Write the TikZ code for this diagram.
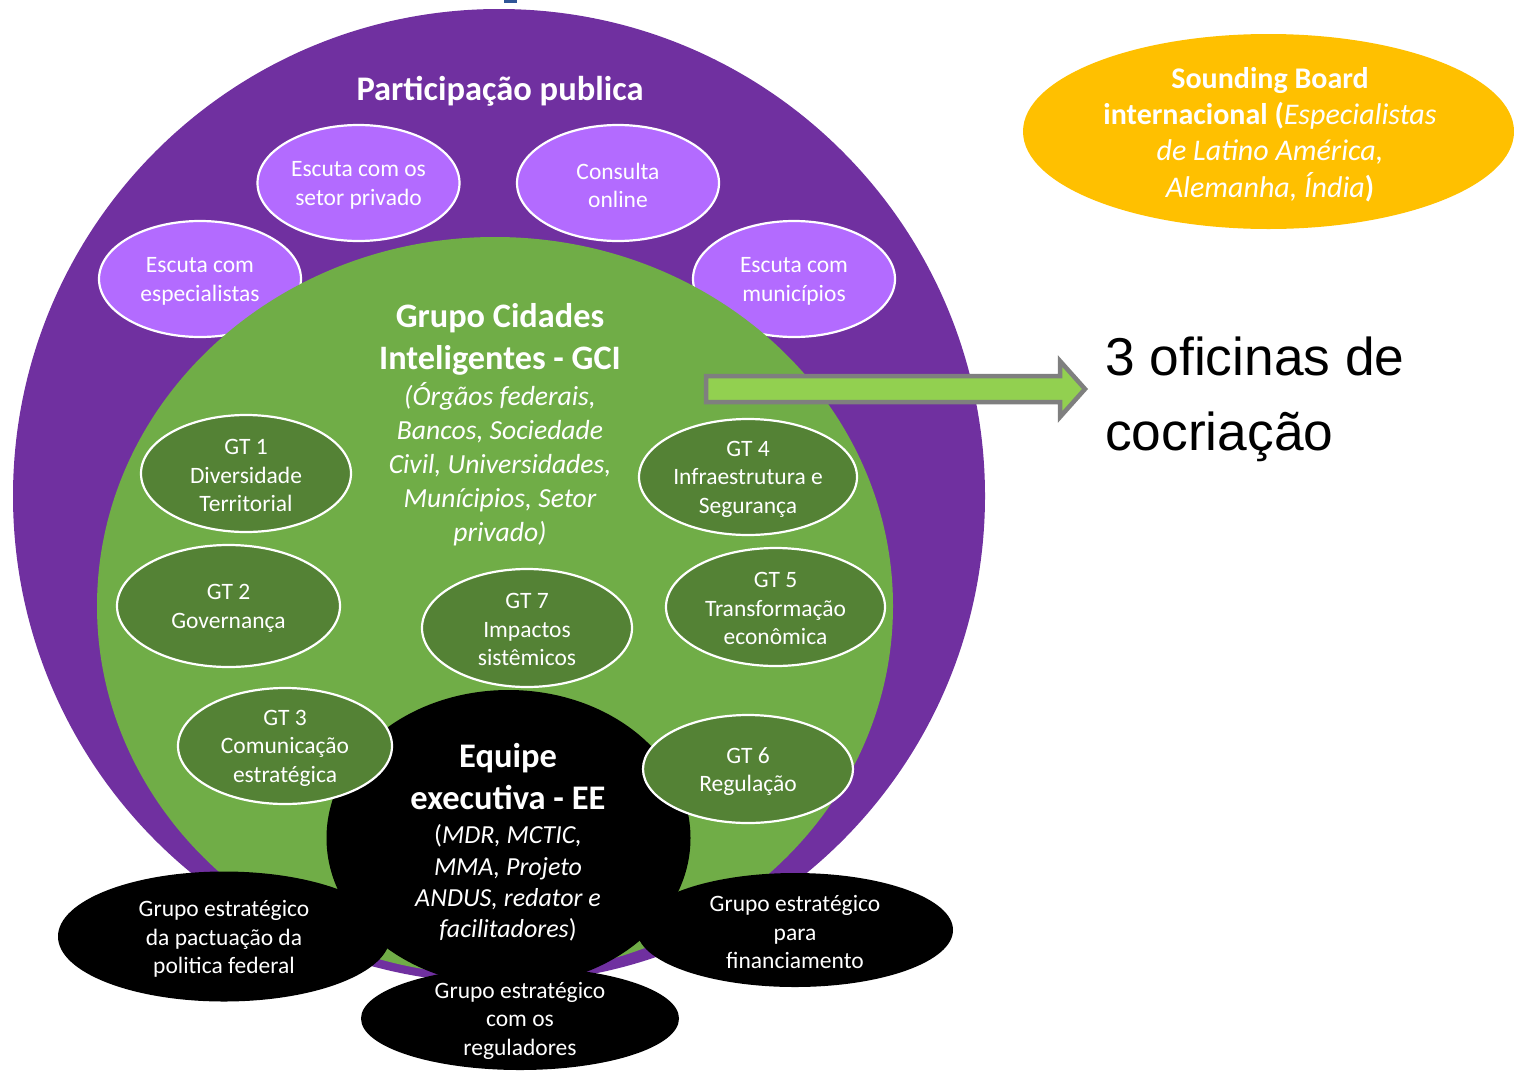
\documentclass[tikz,border=0pt]{standalone}
\usepackage{fontspec}
\setmainfont{Carlito}
\newfontfamily\arialfont{Liberation Sans}
\usetikzlibrary{shapes.geometric}
\definecolor{purp}{HTML}{7030A0}
\definecolor{lpurp}{HTML}{B36BFF}
\definecolor{grn}{HTML}{70AD47}
\definecolor{dgrn}{HTML}{548235}
\definecolor{yel}{HTML}{FFC000}
\definecolor{arrgrn}{HTML}{92D050}
\definecolor{arrgray}{HTML}{7F7F7F}
\definecolor{titleblue}{HTML}{2F5597}
\begin{document}
\begin{tikzpicture}[x=1pt,y=-1pt,
  ell/.style 2 args={ellipse, inner sep=0pt, outer sep=0pt, minimum width=#1pt, minimum height=#2pt},
  small/.style={font=\fontsize{23.5}{28.5}\selectfont, text=white, align=center, inner sep=0pt},
  lp/.style={ell={202}{116}, fill=lpurp, draw=white, line width=2.2pt},
  gt/.style={fill=dgrn, draw=white, line width=2.2pt},
  blk/.style={fill=black},
  wtxt/.style={text=white, align=center, inner sep=0pt},
]
\useasboundingbox (0,0) rectangle (1514,1071);
\fill[titleblue] (504,0) rectangle (517,3);
% big circles
\node[ell={972}{974}, fill=purp] (pp) at (499,496) {};
\node[lp] (priv) at (358.5,183) {};
\node[lp] (onl) at (618,183) {};
\node[lp] (esp) at (200,279) {};
\node[lp] (mun) at (794,279) {};
\node[ell={796}{738}, fill=grn] (gci) at (495,606) {};
\node[ell={364}{296}, fill=black] (ee) at (508.5,838) {};
% GT groups
\node[gt, ell={210}{117}] (gt1) at (246,473.5) {};
\node[gt, ell={223}{122}] (gt2) at (228.5,606) {};
\node[gt, ell={214}{116}] (gt3) at (285,746) {};
\node[gt, ell={218}{116}] (gt4) at (748,477) {};
\node[gt, ell={219}{118}] (gt5) at (775.5,607) {};
\node[gt, ell={210}{108}] (gt6) at (748,769) {};
\node[gt, ell={210}{118}] (gt7) at (527,628) {};
% strategic groups
\node[blk, ell={332}{130}] (pact) at (224,936.5) {};
\node[blk, ell={316}{114}] (fin) at (795,930) {};
\node[blk, ell={318}{103}] (reg) at (520,1018.5) {};
% small labels
\node[small] (privt) at ([yshift=-2.5pt]priv.center) {Escuta com os\\setor privado};
\node[small] (onlt) at ([yshift=-2.5pt]onl.center) {Consulta\\online};
\node[small] (espt) at ([yshift=-2.5pt]esp.center) {Escuta com\\especialistas};
\node[small] (munt) at ([yshift=-2.5pt]mun.center) {Escuta com\\municípios};
\node[small] (gt1t) at ([yshift=-2pt]gt1.center) {GT 1\\Diversidade\\Territorial};
\node[small] (gt2t) at ([yshift=-2.5pt]gt2.center) {GT 2\\Governança};
\node[small] (gt3t) at ([yshift=-2pt]gt3.center) {GT 3\\Comunicação\\estratégica};
\node[small] (gt4t) at ([yshift=-2pt]gt4.center) {GT 4\\Infraestrutura e\\Segurança};
\node[small] (gt5t) at ([yshift=-1.5pt]gt5.center) {GT 5\\Transformação\\econômica};
\node[small] (gt6t) at ([yshift=-2.5pt]gt6.center) {GT 6\\Regulação};
\node[small] (gt7t) at ([yshift=-1.5pt]gt7.center) {GT 7\\Impactos\\sistêmicos};
\node[small] (pactt) at ([yshift=-2.5pt]pact.center) {Grupo estratégico\\da pactuação da\\politica federal};
\node[small] (fint) at ([yshift=-2pt]fin.center) {Grupo estratégico\\para\\financiamento};
\node[small] (regt) at ([yshift=-2pt]reg.center) {Grupo estratégico\\com os\\reguladores};
% titles
\node[wtxt, font=\fontsize{34.5}{40}\selectfont\bfseries] (ppt) at (500,91) {Participação publica};
\node[wtxt, font=\fontsize{34.3}{42}\selectfont\bfseries] (gcit) at (500,339) {Grupo Cidades\\Inteligentes - GCI};
\node[wtxt, font=\fontsize{27.6}{34}\selectfont\itshape] (gcis) at (500,464) {(Órgãos federais,\\Bancos, Sociedade\\Civil, Universidades,\\Munícipios, Setor\\privado)};
\node[wtxt, font=\fontsize{34.5}{42}\selectfont\bfseries] (eet) at (508,777) {Equipe\\executiva - EE};
\node[wtxt, font=\fontsize{26}{31.3}\selectfont] (ees) at (508,883) {(\textit{MDR, MCTIC,}\\\textit{MMA, Projeto}\\\textit{ANDUS, redator e}\\\textit{facilitadores})};
% sounding board
\node[ell={491}{195}, fill=yel] (sb) at (1268.5,131.5) {};
\node[wtxt, font=\fontsize{30}{36.2}\selectfont] (sbt) at (1270,134.5) {\textbf{Sounding Board}\\\textbf{internacional (}\textit{Especialistas}\\\textit{de Latino América,}\\\textit{Alemanha, Índia}\textbf{)}};
% arrow
\filldraw[fill=arrgrn, draw=arrgray, line width=4.5pt, line join=miter]
  (706,376) -- (1060,376) -- (1060,361) -- (1085,389) -- (1060,417) -- (1060,402) -- (706,402) -- cycle;
\node[font=\arialfont\fontsize{53.3}{75}\selectfont, align=left, anchor=west, inner sep=0pt] (ofi) at (1105,399) {3 oficinas de\\cocriação};
\end{tikzpicture}
\end{document}
